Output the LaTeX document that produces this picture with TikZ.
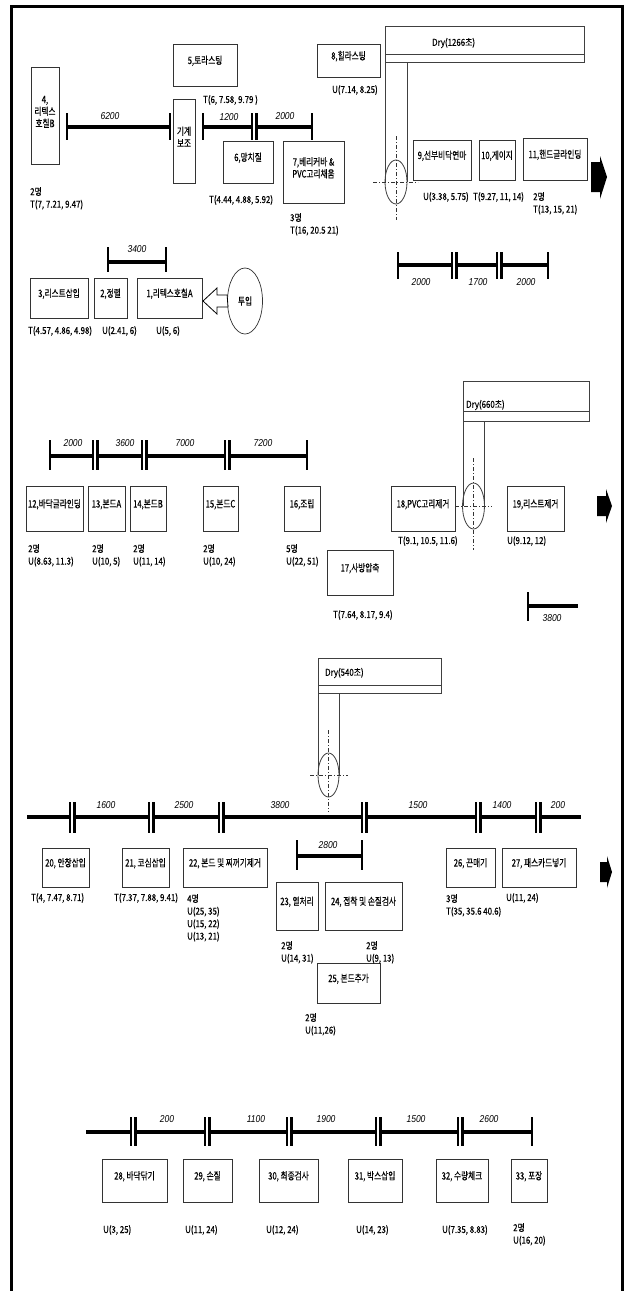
\documentclass[tikz,border=0pt]{standalone}
\usepackage{fontspec}
\newfontfamily\krbox[FakeStretch=0.75,FakeBold=0.3]{Noto Sans CJK KR}
\newfontfamily\krlab[FakeStretch=0.82,FakeBold=0.3]{Noto Sans CJK KR}
\newfontfamily\dimfont[FakeStretch=0.85]{Liberation Sans}
\usetikzlibrary{fit,shapes.geometric}
\newcommand\bx[6]{\node[box, fit={(#2,#3) (#4,#5)}] (#1) {#6};}
\begin{document}
\begin{tikzpicture}[x=1pt,y=-1pt,
  box/.style={draw=black!80, line width=0.7pt, inner sep=0pt, align=center,
    font=\krbox\fontsize{10.2}{12}\selectfont},
  lab/.style={font=\krlab\fontsize{9.6}{12.5}\selectfont, inner sep=0pt, align=left, anchor=north west},
  labw/.style={lab, anchor=west},
  dim/.style={font=\dimfont\itshape\fontsize{10}{10}\selectfont, inner sep=0pt},
  bar/.style={line width=3.6pt},
  tick/.style={line width=2.4pt},
  pipe/.style={draw=black!75, line width=0.8pt},
  axis/.style={draw=black!80, line width=0.6pt, dash pattern=on 4pt off 2pt on 1pt off 2pt},
  bigarrow/.style={fill=black}
]
\useasboundingbox (0,0) rectangle (627,1291);
\fill[white] (0,0) rectangle (627,1291);
% frame
\draw[line width=3pt] (11,1291) -- (11,6) -- (622,6) -- (622,1291);

% ================= Section 1 =================
\node[box, align=left, fit={(31,67) (59,164)}] (b4) {4,\\리텍스\\호칠B};
\bx{b5}{173}{44}{237}{86}{5,토라스팅}
\bx{bk}{173}{99}{195}{183}{기계\\보조}
\bx{b6}{223}{141}{273}{183}{6,망치질}
\bx{b7}{283}{141}{344}{203}{7,베리커바 \&\\PVC고리채움}
\bx{b8}{317}{44}{380}{77}{8,힐라스팅}
\bx{b9}{413}{140}{471}{180}{9,선부비닥연마}
\bx{b10}{479}{140}{515}{180}{10,게이지}
\bx{b11}{523}{138}{587}{180}{11,핸드글라인딩}
\bx{b3}{30}{278}{88}{318}{3,리스트삽입}
\bx{b2}{94}{278}{127}{318}{2,정렬}
\bx{b1}{137}{278}{202}{318}{1,리텍스호칠A}
\node[draw=black!80, line width=0.7pt, ellipse, minimum width=35pt, minimum height=66pt, inner sep=0pt,
  font=\krbox\fontsize{10.2}{12}\selectfont] (in) at (245,301) {투입};
% hollow arrow from input to box 1
\draw[line width=0.8pt, fill=white] (in.west) ++(0,-6) -- (217,295) -- (217,288) -- (203,301) -- (217,314) -- (217,307) -- (228,307) -- cycle;

% bar 6200
\draw[bar] (67,127) -- (170,127);
\draw[tick] (67,113) -- (67,140);
\draw[tick] (170,113) -- (170,140);
\node[dim] (d1) at (110,116) {6200};
% bar 1200 / 2000
\draw[bar] (203,127) -- (252,127);
\draw[bar] (256.5,127) -- (312,127);
\draw[tick] (203,113) -- (203,140);
\draw[tick] (252,113) -- (252,140);
\draw[tick] (256.5,113) -- (256.5,140);
\draw[tick] (312,113) -- (312,140);
\node[dim] (d2) at (229,117) {1200};
\node[dim] (d3) at (285,116) {2000};
% bar 3400
\draw[bar] (108,262) -- (166,262);
\draw[tick] (108,247) -- (108,272);
\draw[tick] (166,247) -- (166,272);
\node[dim] (d4) at (137,249) {3400};
% bar 2000/1700/2000
\draw[bar] (398,265) -- (452,265);
\draw[bar] (456.5,265) -- (497,265);
\draw[bar] (501.5,265) -- (548,265);
\foreach \x in {398,452,456.5,497,501.5,548} \draw[tick] (\x,252) -- (\x,279);
\node[dim] (d5) at (421,282) {2000};
\node[dim] (d6) at (478,282) {1700};
\node[dim] (d7) at (526,282) {2000};

% dry 1266
\draw[pipe] (385,26) rectangle (584,62);
\draw[pipe] (385,54) -- (584,54);
\node[labw] (dry1) at (432,43) {Dry(1266초)};
\draw[pipe] (385,62) -- (385,182);
\draw[pipe] (407,62) -- (407,182);
\node[draw=black!75, line width=0.8pt, ellipse, minimum width=22pt, minimum height=44pt, inner sep=0pt] (e1) at (396,182) {};
\draw[axis] (373,182) -- (418,182);
\draw[axis] (396,136) -- (396,220);

% big arrow 1
\fill[bigarrow] (591,162) -- (600,162) -- (600,156) -- (607,177) -- (600,199) -- (600,192) -- (591,192) -- cycle;

% labels section 1
\node[labw] (l5) at (203,100) {T(6, 7.58, 9.79 )};
\node[lab] (l4) at (30,187) {2명\\T(7, 7.21, 9.47)};
\node[labw] (l6) at (209,200) {T(4.44, 4.88, 5.92)};
\node[lab] (l7) at (290,213) {3명\\T(16, 20.5 21)};
\node[labw] (l8) at (332,90) {U(7.14, 8.25)};
\node[labw] (l9) at (423,197) {U(3.38, 5.75)};
\node[labw] (l10) at (473,197) {T(9.27, 11, 14)};
\node[lab] (l11) at (533,192) {2명\\T(13, 15, 21)};
\node[labw] (l3) at (28,331) {T(4.57, 4.86, 4.98)};
\node[labw] (l2) at (102,331) {U(2.41, 6)};
\node[labw] (l1) at (156,331) {U(5, 6)};

% ================= Section 2 =================
\draw[bar] (50,456) -- (93,456);
\draw[bar] (97.5,456) -- (142,456);
\draw[bar] (146.5,456) -- (225,456);
\draw[bar] (229.5,456) -- (307,456);
\foreach \x in {50,93,97.5,142,146.5,225,229.5,307} \draw[tick] (\x,440) -- (\x,470);
\node[dim] (d8) at (73,443) {2000};
\node[dim] (d9) at (125,443) {3600};
\node[dim] (d10) at (185,443) {7000};
\node[dim] (d11) at (263,443) {7200};

\bx{b12}{26}{486}{83}{531}{12,바닥글라인딩}
\bx{b13}{88}{486}{125}{531}{13,본드A}
\bx{b14}{130}{486}{166}{531}{14,본드B}
\bx{b15}{203}{486}{238}{531}{15,본드C}
\bx{b16}{284}{486}{320}{531}{16,조립}
\bx{b17}{327}{550}{393}{595}{17,사방압축}
\bx{b18}{391}{486}{455}{531}{18,PVC고리제거}
\bx{b19}{507}{486}{564}{531}{19,리스트제거}

\node[lab] (l12) at (28,544) {2명\\U(8.63, 11.3)};
\node[lab] (l13) at (92,544) {2명\\U(10, 5)};
\node[lab] (l14) at (133,544) {2명\\U(11, 14)};
\node[lab] (l15) at (203,544) {2명\\U(10, 24)};
\node[lab] (l16) at (286,544) {5명\\U(22, 51)};
\node[labw] (l18) at (398,541) {T(9.1, 10.5, 11.6)};
\node[labw] (l19) at (507,541) {U(9.12, 12)};
\node[labw] (l17) at (333,615) {T(7.64, 8.17, 9.4)};

% dry 660
\draw[pipe] (463,381) rectangle (589,421);
\draw[pipe] (463,411) -- (589,411);
\node[labw] (dry2) at (466,405) {Dry(660초)};
\draw[pipe] (463,421) -- (463,506);
\draw[pipe] (484,421) -- (484,506);
\node[draw=black!75, line width=0.8pt, ellipse, minimum width=22pt, minimum height=46pt, inner sep=0pt] (e2) at (473.5,506) {};
\draw[axis] (455,506) -- (492,506);
\draw[axis] (473.5,458) -- (473.5,550);

% big arrow 2
\fill[bigarrow] (597,496) -- (606,496) -- (606,489) -- (612,506) -- (606,523) -- (606,516) -- (597,516) -- cycle;

% scale 3800
\draw[bar] (528,606) -- (578,606);
\draw[tick] (528,592) -- (528,621);
\node[dim] (d12) at (552,618) {3800};

% ================= Section 3 =================
\draw[pipe] (318,658) rectangle (441,693);
\draw[pipe] (318,685) -- (441,685);
\node[labw] (dry3) at (325,673) {Dry(540초)};
\draw[pipe] (318,693) -- (318,775);
\draw[pipe] (339,693) -- (339,775);
\node[draw=black!75, line width=0.8pt, ellipse, minimum width=21pt, minimum height=44pt, inner sep=0pt] (e3) at (328.5,775) {};
\draw[axis] (310,775) -- (348,775);
\draw[axis] (328.5,730) -- (328.5,812);

\draw[bar] (27,817) -- (70,817);
\draw[bar] (74.5,817) -- (149,817);
\draw[bar] (153.5,817) -- (219,817);
\draw[bar] (223.5,817) -- (362,817);
\draw[bar] (366.5,817) -- (476,817);
\draw[bar] (480.5,817) -- (536,817);
\draw[bar] (540.5,817) -- (581,817);
\foreach \x in {70,74.5,149,153.5,219,223.5,362,366.5,476,480.5,536,540.5} \draw[tick] (\x,802) -- (\x,833);
\node[dim] (d13) at (106,805) {1600};
\node[dim] (d14) at (184,805) {2500};
\node[dim] (d15) at (280,805) {3800};
\node[dim] (d16) at (418,805) {1500};
\node[dim] (d17) at (502,805) {1400};
\node[dim] (d18) at (558,805) {200};

\draw[bar] (297,856) -- (362,856);
\draw[tick] (297,840) -- (297,870);
\draw[tick] (362,840) -- (362,870);
\node[dim] (d19) at (328,845) {2800};

\bx{b20}{42}{848}{89}{887}{20, 안창삽입}
\bx{b21}{122}{848}{169}{887}{21, 코심삽입}
\bx{b22}{183}{848}{267}{887}{22, 본드 및 찌꺼기제거}
\bx{b23}{276}{882}{318}{930}{23, 열처리}
\bx{b24}{325}{882}{402}{930}{24, 접착 및 손질검사}
\bx{b25}{317}{963}{380}{1003}{25, 본드추가}
\bx{b26}{446}{848}{495}{887}{26, 끈매기}
\bx{b27}{502}{848}{576}{887}{27, 패스카드넣기}

\fill[bigarrow] (600,862) -- (607,862) -- (607,856) -- (612,872) -- (607,888) -- (607,882) -- (600,882) -- cycle;

\node[labw] (l20) at (31,898) {T(4, 7.47, 8.71)};
\node[labw] (l21) at (114,898) {T(7.37, 7.88, 9.41)};
\node[lab] (l22) at (187,894) {4명\\U(25, 35)\\U(15, 22)\\U(13, 21)};
\node[lab] (l23) at (281,941) {2명\\U(14, 31)};
\node[lab] (l24) at (366,941) {2명\\U(9, 13)};
\node[lab] (l25) at (305,1013) {2명\\U(11,26)};
\node[lab] (l26) at (446,894) {3명\\T(35, 35.6 40.6)};
\node[labw] (l27) at (506,898) {U(11, 24)};

% ================= Section 4 =================
\draw[bar] (86,1132) -- (131,1132);
\draw[bar] (135.5,1132) -- (205,1132);
\draw[bar] (209.5,1132) -- (287,1132);
\draw[bar] (291.5,1132) -- (376,1132);
\draw[bar] (380.5,1132) -- (458,1132);
\draw[bar] (462.5,1132) -- (532,1132);
\foreach \x in {131,135.5,205,209.5,287,291.5,376,380.5,458,462.5,532} \draw[tick] (\x,1117) -- (\x,1146);
\node[dim] (d20) at (167,1119) {200};
\node[dim] (d21) at (256,1119) {1100};
\node[dim] (d22) at (326,1119) {1900};
\node[dim] (d23) at (416,1119) {1500};
\node[dim] (d24) at (489,1119) {2600};

\bx{b28}{102}{1159}{167}{1202}{28, 바닥닦기}
\bx{b29}{183}{1159}{232}{1202}{29, 손질}
\bx{b30}{259}{1159}{318}{1202}{30, 최종검사}
\bx{b31}{348}{1159}{402}{1202}{31, 박스삽입}
\bx{b32}{436}{1159}{488}{1202}{32, 수량체크}
\bx{b33}{511}{1159}{547}{1202}{33, 포장}

\node[labw] (l28) at (103,1230) {U(3, 25)};
\node[labw] (l29) at (185,1230) {U(11, 24)};
\node[labw] (l30) at (266,1230) {U(12, 24)};
\node[labw] (l31) at (356,1230) {U(14, 23)};
\node[labw] (l32) at (442,1230) {U(7.35, 8.83)};
\node[lab] (l33) at (513,1223) {2명\\U(16, 20)};
\end{tikzpicture}
\end{document}
